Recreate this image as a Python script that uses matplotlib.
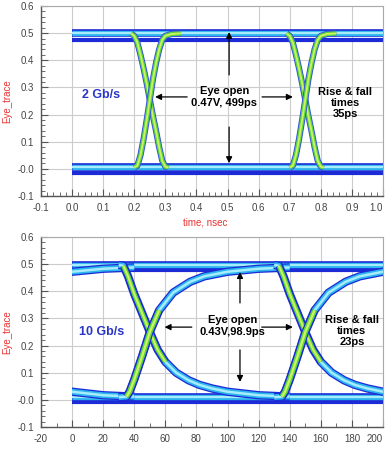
import numpy as np
import matplotlib
matplotlib.use("Agg")
import matplotlib.pyplot as plt
from matplotlib.patches import Rectangle
from matplotlib.ticker import AutoMinorLocator

plt.rcParams['font.family'] = ['Liberation Sans', 'DejaVu Sans']

# ---- 2 Gb/s eye, time in ns ----
cross_2g = [0.25, 0.75]
fall_rel_2g = [-0.06, -0.05, -0.04, -0.03, -0.02, -0.01, 0.0, 0.01, 0.02, 0.03, 0.04, 0.05, 0.06]
fall_v_2g = [0.499, 0.49, 0.465, 0.42, 0.37, 0.315, 0.255, 0.195, 0.14, 0.08, 0.03, 0.008, 0.005]
rise_rel_2g = [-0.05, -0.04, -0.03, -0.02, -0.01, 0.0, 0.01, 0.02, 0.03, 0.04, 0.05, 0.07, 0.1]
rise_v_2g = [0.005, 0.012, 0.05, 0.11, 0.18, 0.255, 0.33, 0.39, 0.44, 0.475, 0.49, 0.497, 0.499]
hi_2g, hi_edge_2g = 0.499, 0.474
lo_2g, lo_edge_2g = 0.005, -0.014

# ---- 10 Gb/s eye, time in ps ----
cross_10g = [-50, 50, 150]
fall_rel_10g = [-20, -17, -14, -10, -5, 0, 5, 10, 17, 25, 32, 40, 50, 70, 90]
fall_v_10g = [0.497, 0.494, 0.455, 0.39, 0.32, 0.25, 0.185, 0.14, 0.10, 0.072, 0.055, 0.042, 0.03, 0.017, 0.012]
rise_rel_10g = [-20, -15, -13, -10, -5, 0, 6, 15, 26, 35, 50, 70, 90]
rise_v_10g = [0.01, 0.012, 0.03, 0.075, 0.16, 0.25, 0.33, 0.395, 0.435, 0.455, 0.472, 0.483, 0.488]
hi_10g, hi_edge_10g = 0.497, 0.477
lo_10g, lo_edge_10g = 0.01, -0.008

y_ticks = [-0.1, 0.0, 0.1, 0.2, 0.3, 0.4, 0.5, 0.6]
y_labels = ['-0.1', '-0.0', '0.1', '0.2', '0.3', '0.4', '0.5', '0.6']
x_ticks_2g = [-0.1, 0.0, 0.1, 0.2, 0.3, 0.4, 0.5, 0.6, 0.7, 0.8, 0.9, 1.0]
x_labels_2g = ['-0.1', '0.0', '0.1', '0.2', '0.3', '0.4', '0.5', '0.6', '0.7', '0.8', '0.9', '1.0']
x_ticks_10g = [-20, 0, 20, 40, 60, 80, 100, 120, 140, 160, 180, 200]

DARK = '#1c2bd6'
EDGE = '#3550e2'
CYAN = '#2cb4ee'
LIGHT = '#a6ecfb'
GREEN = '#5ad63e'
YEL = '#ccf462'
RED = '#e83232'


def stroke(ax, t, v, w, mid, core, clip, edge=DARK):
    for c, lw in ((edge, w), (mid, w * 0.7), (core, w * 0.3)):
        ln, = ax.plot(t, v, color=c, lw=lw, solid_capstyle='butt',
                      solid_joinstyle='round')
        ln.set_clip_path(clip)


def setup(ax, xlim, xticks, xlabels, xminor):
    ax.set_xlim(*xlim)
    ax.set_ylim(-0.1, 0.6)
    ax.set_xticks(xticks)
    ax.set_xticklabels(xlabels)
    ax.get_xticklabels()[-1].set_horizontalalignment('right')
    ax.set_yticks(y_ticks)
    ax.set_yticklabels(y_labels)
    ax.xaxis.set_minor_locator(AutoMinorLocator(xminor))
    ax.yaxis.set_minor_locator(AutoMinorLocator(5))
    ax.tick_params(which='both', direction='in', colors='#555555',
                   labelsize=7, labelcolor='#444444', pad=5)
    ax.tick_params(which='major', length=5, width=0.8)
    ax.tick_params(which='minor', length=3, width=0.6)
    ax.grid(True, which='major', color='#cccccc', lw=0.8)
    ax.set_axisbelow(True)
    for s in ('top', 'right'):
        ax.spines[s].set_color('#aaaaaa')
        ax.spines[s].set_linewidth(0.8)
    for s in ('left', 'bottom'):
        ax.spines[s].set_color('#555555')
        ax.spines[s].set_linewidth(1.0)
    ax.set_ylabel('Eye_trace', color=RED, fontsize=7)
    ax.yaxis.set_label_coords(-0.085, 0.5)


def arrow(ax, tail, tip):
    ax.annotate('', xy=tip, xytext=tail,
                arrowprops=dict(arrowstyle='-|>', color='black', lw=0.9,
                                mutation_scale=9, shrinkA=0, shrinkB=0))


fig = plt.figure(figsize=(3.88, 4.5), dpi=100)
ax1 = fig.add_axes([41 / 388, 1 - 196 / 450, 342 / 388, 190 / 450])
ax2 = fig.add_axes([41 / 388, 1 - 427 / 450, 342 / 388, 190 / 450])

# ---------- top: 2 Gb/s ----------
setup(ax1, (-0.1, 1.0), x_ticks_2g, x_labels_2g, 5)
clip1 = Rectangle((0.0, -1), 1.0, 3, transform=ax1.transData)
ax1.add_patch(clip1)
clip1.set_visible(False)
span = [0.0, 1.0]
for lv in (hi_edge_2g, lo_edge_2g):
    ax1.plot(span, [lv] * 2, color=DARK, lw=3.0, solid_capstyle='butt')
stroke(ax1, span, [hi_2g] * 2, 5.5, CYAN, LIGHT, clip1)
stroke(ax1, span, [lo_2g] * 2, 5.5, CYAN, LIGHT, clip1)
for c in cross_2g:
    stroke(ax1, np.array(fall_rel_2g) + c, fall_v_2g, 4.5, GREEN, YEL, clip1, EDGE)
    stroke(ax1, np.array(rise_rel_2g) + c, rise_v_2g, 4.5, GREEN, YEL, clip1, EDGE)
ax1.set_xlabel('time, nsec', color=RED, fontsize=7)
ax1.xaxis.set_label_coords(0.48, -0.115)

ax1.text(0.093, 0.272, '2 Gb/s', color='#2a36c8', fontsize=9,
         fontweight='bold', ha='center', va='center')
ax1.text(0.49, 0.265, 'Eye open\n0.47V, 499ps', fontsize=8, fontweight='bold',
         ha='center', va='center', linespacing=1.15)
ax1.text(0.878, 0.242, 'Rise & fall\ntimes\n35ps', fontsize=8,
         fontweight='bold', ha='center', va='center', linespacing=1.15)
arrow(ax1, (0.37, 0.265), (0.267, 0.265))
arrow(ax1, (0.611, 0.265), (0.71, 0.265))
arrow(ax1, (0.505, 0.346), (0.505, 0.504))
arrow(ax1, (0.505, 0.154), (0.505, 0.021))

# ---------- bottom: 10 Gb/s ----------
setup(ax2, (-20, 200), x_ticks_10g, [str(v) for v in x_ticks_10g], 2)
clip2 = Rectangle((0, -1), 200, 3, transform=ax2.transData)
ax2.add_patch(clip2)
clip2.set_visible(False)
span = [0, 200]
for lv in (hi_edge_10g, lo_edge_10g):
    ax2.plot(span, [lv] * 2, color=DARK, lw=3.0, solid_capstyle='butt')
stroke(ax2, span, [hi_10g] * 2, 5.5, CYAN, LIGHT, clip2)
stroke(ax2, span, [lo_10g] * 2, 5.5, CYAN, LIGHT, clip2)
fr = np.array(fall_rel_10g)
rr = np.array(rise_rel_10g)
fv = np.array(fall_v_10g)
rv = np.array(rise_v_10g)
for c in cross_10g:
    stroke(ax2, fr + c, fv, 6, CYAN, LIGHT, clip2)
    stroke(ax2, rr + c, rv, 6, CYAN, LIGHT, clip2)
for c in cross_10g:
    m = (fr >= -17) & (fr <= 10)
    stroke(ax2, fr[m] + c, fv[m], 5, GREEN, YEL, clip2)
    m = (rr >= -15) & (rr <= 6)
    stroke(ax2, rr[m] + c, rv[m], 5.5, GREEN, YEL, clip2)

ax2.text(19.2, 0.25, '10 Gb/s', color='#2a36c8', fontsize=9,
         fontweight='bold', ha='center', va='center')
ax2.text(103, 0.272, 'Eye open\n0.43V,98.9ps', fontsize=8, fontweight='bold',
         ha='center', va='center', linespacing=1.15)
ax2.text(180, 0.254, 'Rise & fall\ntimes\n23ps', fontsize=8,
         fontweight='bold', ha='center', va='center', linespacing=1.15)
arrow(ax2, (77, 0.268), (59.5, 0.268))
arrow(ax2, (122, 0.268), (142, 0.268))
arrow(ax2, (108, 0.357), (108, 0.471))
arrow(ax2, (108, 0.184), (108, 0.066))

fig.savefig('out.png', dpi=100)
